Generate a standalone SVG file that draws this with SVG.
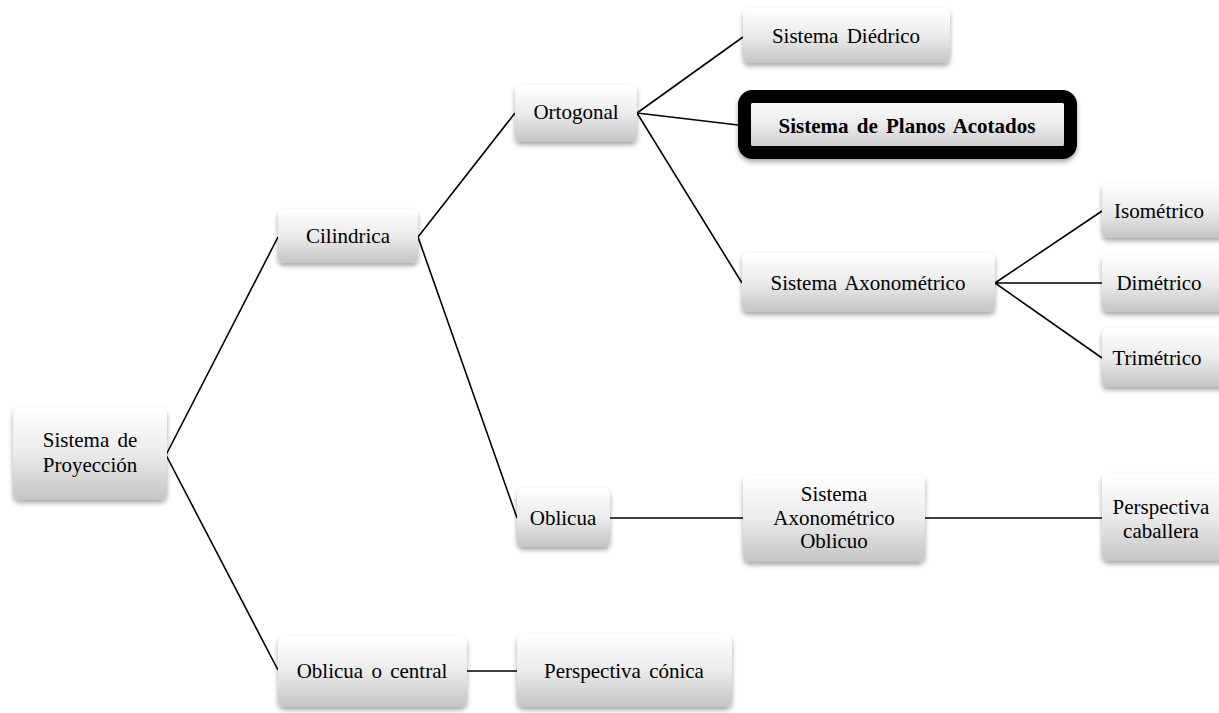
<svg xmlns="http://www.w3.org/2000/svg" width="1219" height="713" viewBox="0 0 1219 713">
<defs>
<linearGradient id="g" x1="0" y1="0" x2="0" y2="1">
<stop offset="0" stop-color="#ffffff"/>
<stop offset="0.5" stop-color="#ebebeb"/>
<stop offset="1" stop-color="#c4c4c4"/>
</linearGradient>
<filter id="sh" x="-10%" y="-10%" width="120%" height="135%">
<feDropShadow dx="0" dy="3" stdDeviation="2.5" flood-color="#000" flood-opacity="0.35"/>
</filter>
</defs>
<style>
.box{fill:url(#g);filter:url(#sh);}
text{font-family:"Liberation Serif","Times New Roman",serif;font-size:21px;fill:#000;text-anchor:middle;word-spacing:3px;}
.b{font-weight:bold;}
.c{stroke:#000;stroke-width:1.6;fill:none;}
</style>
<g id="connectors">
<path class="c" d="M166 455 L278 237 M166 455 L278 670"/>
<path class="c" d="M418 237 L515 113 M418 237 L517 518"/>
<path class="c" d="M637 113 L743 37 M637 113 L738 125 M637 113 L742 283"/>
<path class="c" d="M995 283 L1102 211 M995 283 L1102 283 M995 283 L1102 358"/>
<path class="c" d="M610 518 L743 518 M925 518 L1102 518"/>
<path class="c" d="M467 671 L517 671"/>
</g>
<g id="n-proyeccion"><rect class="box" x="13" y="407" width="154" height="93" rx="7"/><text x="90" y="447">Sistema de</text><text x="90" y="472">Proyección</text></g>
<g id="n-cilindrica"><rect class="box" x="278" y="209" width="140" height="54" rx="6"/><text x="348" y="243">Cilindrica</text></g>
<g id="n-ortogonal"><rect class="box" x="515" y="85" width="122" height="57" rx="6"/><text x="576" y="119">Ortogonal</text></g>
<g id="n-diedrico"><rect class="box" x="743" y="8" width="207" height="55" rx="6"/><text x="846" y="43">Sistema Diédrico</text></g>
<g id="n-planos"><rect x="744.5" y="96.5" width="326" height="56" rx="8" fill="url(#g)" stroke="#000" stroke-width="13" filter="url(#sh)"/><text class="b" x="907" y="133">Sistema de Planos Acotados</text></g>
<g id="n-axonometrico"><rect class="box" x="742" y="253" width="253" height="59" rx="6"/><text x="868" y="290">Sistema Axonométrico</text></g>
<g id="n-isometrico"><rect class="box" x="1102" y="183" width="124" height="55" rx="6"/><text x="1159" y="218">Isométrico</text></g>
<g id="n-dimetrico"><rect class="box" x="1102" y="255" width="124" height="57" rx="6"/><text x="1159" y="290">Dimétrico</text></g>
<g id="n-trimetrico"><rect class="box" x="1102" y="328" width="124" height="59" rx="6"/><text x="1157" y="365">Trimétrico</text></g>
<g id="n-oblicua"><rect class="box" x="517" y="488" width="93" height="59" rx="6"/><text x="563" y="525">Oblicua</text></g>
<g id="n-sao"><rect class="box" x="743" y="475" width="182" height="87" rx="7"/><text x="834" y="501">Sistema</text><text x="834" y="525">Axonométrico</text><text x="834" y="548">Oblicuo</text></g>
<g id="n-caballera"><rect class="box" x="1102" y="473" width="124" height="88" rx="7"/><text x="1161" y="514">Perspectiva</text><text x="1161" y="538">caballera</text></g>
<g id="n-central"><rect class="box" x="278" y="636" width="189" height="71" rx="7"/><text x="372" y="678">Oblicua o central</text></g>
<g id="n-conica"><rect class="box" x="517" y="634" width="215" height="73" rx="7"/><text x="624" y="678">Perspectiva cónica</text></g>
</svg>
